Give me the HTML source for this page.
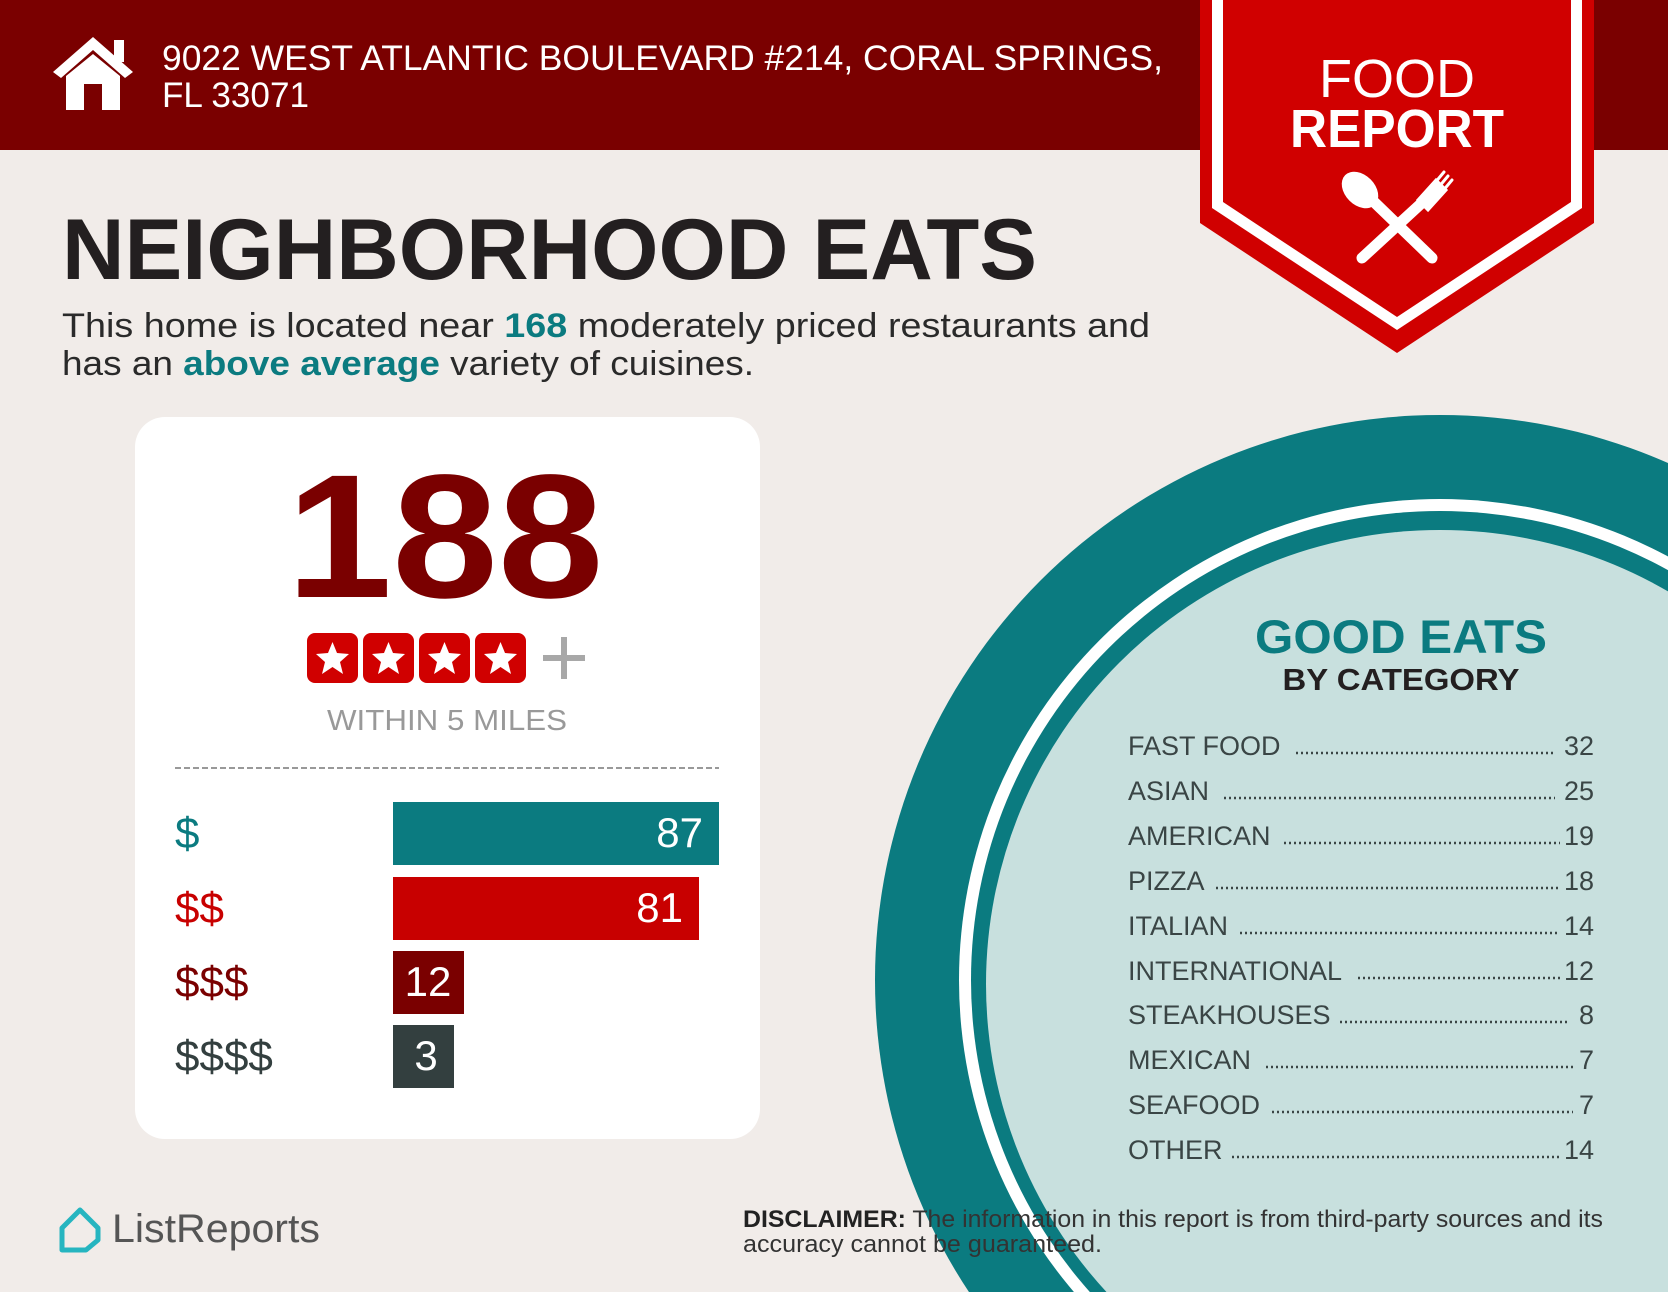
<!DOCTYPE html>
<html><head><meta charset="utf-8"><style>html,body{margin:0;padding:0;background:#f1ece9;width:1668px;height:1292px;overflow:hidden}svg{display:block}</style></head>
<body>
<svg width="1668" height="1292" viewBox="0 0 1668 1292" xmlns="http://www.w3.org/2000/svg" font-family="Liberation Sans, sans-serif">
<rect width="1668" height="1292" fill="#f1ece9"/>
<circle cx="1440" cy="980" r="565" fill="#0b7b80"/>
<circle cx="1440" cy="980" r="481" fill="#ffffff"/>
<circle cx="1440" cy="980" r="469" fill="#0b7b80"/>
<circle cx="1440" cy="984" r="454" fill="#c8e0de"/>
<rect x="0" y="0" width="1668" height="150" fill="#7a0000"/>
<g fill="#fff">
<polygon points="53,72 93,37 133,72 125,78 93,50 61,78"/>
<rect x="114" y="40" width="10" height="22"/>
<polygon points="66,76 93,54 120,76 120,110 102,110 102,84 84,84 84,110 66,110"/>
</g>
<text x="162" y="70" font-size="35" fill="#fff" textLength="1001" lengthAdjust="spacingAndGlyphs">9022 WEST ATLANTIC BOULEVARD #214, CORAL SPRINGS,</text>
<text x="162" y="107" font-size="35" fill="#fff" textLength="147" lengthAdjust="spacingAndGlyphs">FL 33071</text>
<polygon points="1200,0 1594,0 1594,223 1397,353 1200,223" fill="#d00000"/>
<polygon points="1212,0 1582,0 1582,208 1397,330 1212,208" fill="#fff"/>
<polygon points="1223,0 1571,0 1571,202 1397,317 1223,202" fill="#d00000"/>
<text x="1397" y="97" font-size="54" fill="#fff" text-anchor="middle">FOOD</text>
<text x="1397" y="147" font-size="54" font-weight="bold" fill="#fff" text-anchor="middle" textLength="214" lengthAdjust="spacingAndGlyphs">REPORT</text>
<g fill="#fff" stroke="#fff" stroke-linecap="round">
<line x1="1372" y1="200" x2="1432" y2="258" stroke-width="11"/>
<ellipse cx="1360" cy="190" rx="15" ry="21" transform="rotate(-45 1360 190)" stroke="none"/>
<line x1="1425" y1="200" x2="1362" y2="258" stroke-width="11"/>
<path d="M1418,200 L1436,180 L1446,190 L1428,210 Z" stroke-width="3"/>
<line x1="1434" y1="184" x2="1444" y2="172" stroke-width="3"/>
<line x1="1438" y1="188" x2="1448" y2="176" stroke-width="3"/>
<line x1="1442" y1="192" x2="1452" y2="180" stroke-width="3"/>
</g>
<text x="62" y="279" font-size="86" font-weight="bold" fill="#231f20" textLength="975" lengthAdjust="spacingAndGlyphs">NEIGHBORHOOD EATS</text>
<text x="62" y="337" font-size="34" fill="#2a2a2a" textLength="1088" lengthAdjust="spacingAndGlyphs">This home is located near <tspan font-weight="bold" fill="#0b7b80">168</tspan> moderately priced restaurants and</text>
<text x="62" y="375" font-size="34" fill="#2a2a2a" textLength="692" lengthAdjust="spacingAndGlyphs">has an <tspan font-weight="bold" fill="#0b7b80">above average</tspan> variety of cuisines.</text>
<rect x="135" y="417" width="625" height="722" rx="30" fill="#fff"/>
<text x="445" y="597" font-size="176" font-weight="bold" fill="#7a0000" text-anchor="middle" textLength="317" lengthAdjust="spacingAndGlyphs">188</text>
<g transform="translate(0,19)">
<rect x="307" y="614" width="51" height="50" rx="8" fill="#d00000"/>
<rect x="363" y="614" width="51" height="50" rx="8" fill="#d00000"/>
<rect x="419" y="614" width="51" height="50" rx="8" fill="#d00000"/>
<rect x="475" y="614" width="51" height="50" rx="8" fill="#d00000"/>
<g fill="#fff">
<polygon id="st" points="332.5,623 337,634 349,635 340,643 343,655 332.5,648 322,655 325,643 316,635 328,634"/>
<use href="#st" x="56"/><use href="#st" x="112"/><use href="#st" x="168"/>
</g>
<rect x="543" y="636" width="42" height="6" fill="#a8a8a8"/>
<rect x="561" y="618" width="6" height="42" fill="#a8a8a8"/>
</g>
<text x="447" y="730" font-size="29" fill="#999" text-anchor="middle" textLength="240" lengthAdjust="spacingAndGlyphs">WITHIN 5 MILES</text>
<line x1="175" y1="768" x2="719" y2="768" stroke="#999" stroke-width="2" stroke-dasharray="6,3"/>
<rect x="393" y="802" width="326" height="63" fill="#0b7b80"/>
<rect x="393" y="877" width="306" height="63" fill="#c80000"/>
<rect x="393" y="951" width="71" height="63" fill="#7a0000"/>
<rect x="393" y="1025" width="61" height="63" fill="#333f3f"/>
<g font-size="42" fill="#fff">
<text x="703" y="847" text-anchor="end">87</text>
<text x="683" y="922" text-anchor="end">81</text>
<text x="428" y="996" text-anchor="middle">12</text>
<text x="426" y="1070" text-anchor="middle">3</text>
</g>
<g font-size="44">
<text x="175" y="848" fill="#0b7b80">$</text>
<text x="175" y="923" fill="#c80000">$$</text>
<text x="175" y="997" fill="#7a0000">$$$</text>
<text x="175" y="1071" fill="#333f3f">$$$$</text>
</g>
<text x="1401" y="653" font-size="47" font-weight="bold" fill="#0b7b80" text-anchor="middle" textLength="292" lengthAdjust="spacingAndGlyphs">GOOD EATS</text>
<text x="1401" y="690" font-size="31" font-weight="bold" fill="#231f20" text-anchor="middle" textLength="237" lengthAdjust="spacingAndGlyphs">BY CATEGORY</text>
<g font-size="27" fill="#3a4545">
<text x="1128" y="755">FAST FOOD</text><text x="1594" y="755" text-anchor="end">32</text>
<text x="1128" y="800">ASIAN</text><text x="1594" y="800" text-anchor="end">25</text>
<text x="1128" y="845">AMERICAN</text><text x="1594" y="845" text-anchor="end">19</text>
<text x="1128" y="890">PIZZA</text><text x="1594" y="890" text-anchor="end">18</text>
<text x="1128" y="935">ITALIAN</text><text x="1594" y="935" text-anchor="end">14</text>
<text x="1128" y="980">INTERNATIONAL</text><text x="1594" y="980" text-anchor="end">12</text>
<text x="1128" y="1024">STEAKHOUSES</text><text x="1594" y="1024" text-anchor="end">8</text>
<text x="1128" y="1069">MEXICAN</text><text x="1594" y="1069" text-anchor="end">7</text>
<text x="1128" y="1114">SEAFOOD</text><text x="1594" y="1114" text-anchor="end">7</text>
<text x="1128" y="1159">OTHER</text><text x="1594" y="1159" text-anchor="end">14</text>
</g>
<g stroke="#3a4545" stroke-width="2.5" stroke-dasharray="2,3">
<line x1="1296" y1="753" x2="1555" y2="753"/>
<line x1="1224" y1="798" x2="1555" y2="798"/>
<line x1="1284" y1="843" x2="1560" y2="843"/>
<line x1="1216" y1="888" x2="1560" y2="888"/>
<line x1="1240" y1="933" x2="1560" y2="933"/>
<line x1="1358" y1="978" x2="1560" y2="978"/>
<line x1="1340" y1="1022" x2="1568" y2="1022"/>
<line x1="1266" y1="1067" x2="1573" y2="1067"/>
<line x1="1272" y1="1112" x2="1573" y2="1112"/>
<line x1="1232" y1="1157" x2="1560" y2="1157"/>
</g>
<path d="M62,1228 L80,1210 L98,1228 L98,1240 L86,1250 L62,1250 Z" fill="none" stroke="#26b5c0" stroke-width="5" stroke-linejoin="round"/>
<text x="112" y="1242" font-size="40" fill="#555" textLength="208" lengthAdjust="spacingAndGlyphs">ListReports</text>
<text x="743" y="1227" font-size="24" fill="#333" textLength="860" lengthAdjust="spacingAndGlyphs"><tspan font-weight="bold" fill="#222">DISCLAIMER:</tspan> The information in this report is from third-party sources and its</text>
<text x="743" y="1252" font-size="24" fill="#333" textLength="359" lengthAdjust="spacingAndGlyphs">accuracy cannot be guaranteed.</text>
</svg>
</body></html>
